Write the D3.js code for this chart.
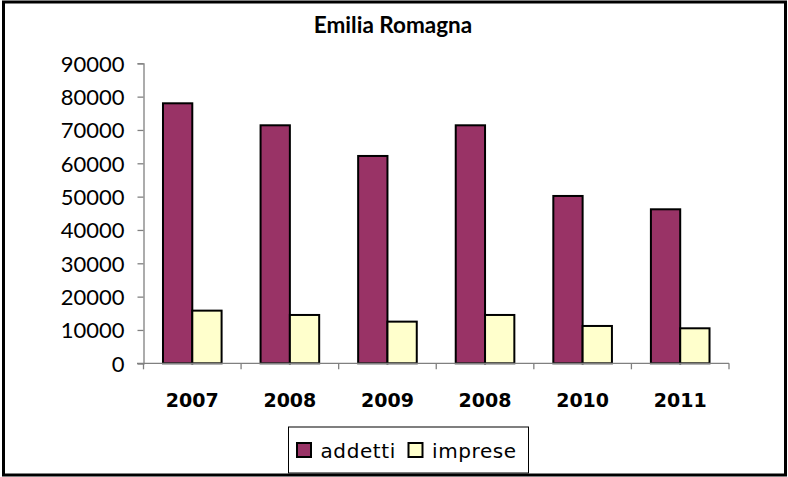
<!DOCTYPE html>
<html>
<head>
<meta charset="utf-8">
<script src="https://cdn.jsdelivr.net/npm/d3@7"></script>
<style>
  body { margin: 0; background: #fff; }
  svg { display: block; }
</style>
</head>
<body>
<div id="chart"></div>
<script>
// data
var years = ["2007", "2008", "2009", "2008", "2010", "2011"];
var addetti = [78000, 71400, 62200, 71400, 50200, 46200];
var imprese = [15800, 14500, 12500, 14500, 11200, 10500];
var seriesNames = ["addetti", "imprese"];
var seriesColors = ["#993366", "#FFFFCC"];
var yTicks = [0, 10000, 20000, 30000, 40000, 50000, 60000, 70000, 80000, 90000];

var w = 788, h = 477;

var svg = d3.select("#chart").append("svg")
  .attr("width", w)
  .attr("height", h);

// outer frame
svg.append("rect")
  .attr("x", 3.5).attr("y", 2)
  .attr("width", 782).attr("height", 473)
  .attr("fill", "#fff")
  .attr("stroke", "#000")
  .attr("stroke-width", 3);

// title
svg.append("text")
  .attr("x", 393).attr("y", 33)
  .attr("text-anchor", "middle")
  .attr("font-family", "Lato, sans-serif")
  .attr("font-weight", "bold")
  .attr("font-size", 22.5)
  .text("Emilia Romagna");

// scales
var x0 = d3.scaleBand()
  .domain(d3.range(years.length))
  .range([143.5, 729]);

var x1 = d3.scaleBand()
  .domain(seriesNames)
  .range([0, x0.bandwidth()])
  .paddingOuter(0.665);

var y = d3.scaleLinear()
  .domain([0, 90000])
  .range([363.3, 63.3]);

// y axis
var yAxis = svg.append("g")
  .attr("transform", "translate(143.5,0)")
  .call(d3.axisLeft(y).tickValues(yTicks).tickSize(6).tickPadding(13).tickFormat(d3.format("d")));
yAxis.select(".domain").attr("stroke", "#808080").attr("stroke-width", 1.3);
yAxis.selectAll(".tick line").attr("stroke", "#808080").attr("stroke-width", 1.3);
yAxis.selectAll("text")
  .attr("font-family", "Lato, sans-serif")
  .attr("font-size", 22)
  .attr("fill", "#000")
  .attr("dy", "0.36em");

// bars
var groups = svg.selectAll(".grp")
  .data(years)
  .enter().append("g")
  .attr("class", "grp")
  .attr("transform", function(d, i) { return "translate(" + x0(i) + ",0)"; });

groups.selectAll("rect")
  .data(function(d, i) { return [addetti[i], imprese[i]]; })
  .enter().append("rect")
  .attr("x", function(d, j) { return x1(seriesNames[j]); })
  .attr("y", function(d) { return y(d); })
  .attr("width", x1.bandwidth())
  .attr("height", function(d) { return y(0) - y(d); })
  .attr("fill", function(d, j) { return seriesColors[j]; })
  .attr("stroke", "#000")
  .attr("stroke-width", 2);

// x axis
var xAxis = svg.append("g")
  .attr("transform", "translate(0," + y(0) + ")");
xAxis.append("line")
  .attr("x1", 137).attr("x2", 729)
  .attr("stroke", "#808080").attr("stroke-width", 1.3);
xAxis.selectAll(".xt")
  .data(d3.range(years.length + 1))
  .enter().append("line")
  .attr("x1", function(i) { return 143.5 + i * x0.step(); })
  .attr("x2", function(i) { return 143.5 + i * x0.step(); })
  .attr("y1", 0).attr("y2", 6)
  .attr("stroke", "#808080").attr("stroke-width", 1.3);
xAxis.selectAll(".xl")
  .data(years)
  .enter().append("text")
  .attr("x", function(d, i) { return x0(i) + x0.bandwidth() / 2; })
  .attr("y", 44)
  .attr("text-anchor", "middle")
  .attr("font-family", "'DejaVu Sans', sans-serif")
  .attr("font-weight", "bold")
  .attr("font-size", 19)
  .text(function(d) { return d; });

// legend
var legend = svg.append("g");
legend.append("rect")
  .attr("x", 288.5).attr("y", 427)
  .attr("width", 240).attr("height", 46)
  .attr("fill", "#fff")
  .attr("stroke", "#000")
  .attr("stroke-width", 1);

var legX = [297, 408.5];
var items = legend.selectAll(".li")
  .data(seriesNames)
  .enter().append("g")
  .attr("transform", function(d, i) { return "translate(" + legX[i] + ",443)"; });
items.append("rect")
  .attr("width", 14).attr("height", 14)
  .attr("fill", function(d, i) { return seriesColors[i]; })
  .attr("stroke", "#000")
  .attr("stroke-width", 2);
items.append("text")
  .attr("x", 23.5).attr("y", 14.5)
  .attr("font-family", "'DejaVu Sans', sans-serif")
  .attr("font-size", 20)
  .attr("letter-spacing", 0.6)
  .text(function(d) { return d; });
</script>
</body>
</html>
